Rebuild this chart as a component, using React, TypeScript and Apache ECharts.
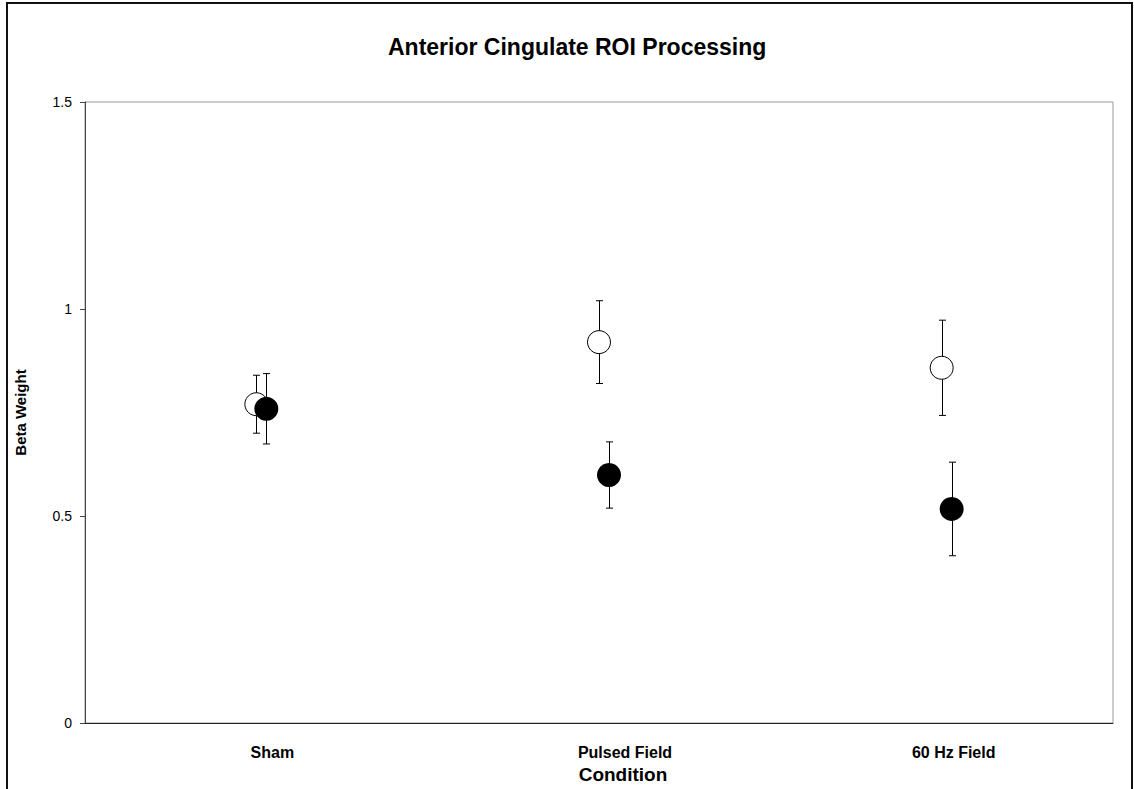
import React, { useEffect, useRef } from "react";
import * as echarts from "echarts";

const categories = ["Sham", "Pulsed Field", "60 Hz Field"];
const yTicks = [0, 0.5, 1, 1.5];
const openValues = [0.77, 0.92, 0.858];
const openErr = [0.07, 0.1, 0.115];
const filledValues = [0.759, 0.599, 0.517];
const filledErr = [0.085, 0.08, 0.113];

const FONT = "Arial, 'Liberation Sans', Helvetica, sans-serif";
const labelShift = [32, 52, 24];

function errSeries(name: string, vals: number[], errs: number[], offset: number, z: number) {
  return {
    name,
    type: "custom",
    z,
    silent: true,
    data: vals.map((v, i) => [i, v - errs[i], v + errs[i]]),
    renderItem: (params: any, api: any) => {
      const lo = api.coord([api.value(0), api.value(1)]);
      const hi = api.coord([api.value(0), api.value(2)]);
      const x = Math.round(lo[0] + offset) + 0.5;
      const cap = 3.5;
      const style = { stroke: "#000", lineWidth: 1, fill: "none" };
      return {
        type: "group",
        children: [
          { type: "line", shape: { x1: x, y1: hi[1], x2: x, y2: lo[1] }, style },
          { type: "line", shape: { x1: x - cap, y1: hi[1], x2: x + cap, y2: hi[1] }, style },
          { type: "line", shape: { x1: x - cap, y1: lo[1], x2: x + cap, y2: lo[1] }, style },
        ],
      };
    },
  };
}

export default function App() {
  const ref = useRef<HTMLDivElement>(null);
  useEffect(() => {
    if (!ref.current) return;
    const chart = echarts.init(ref.current, null, { renderer: "svg" });
    const rich: any = {};
    labelShift.forEach((s, i) => {
      rich["c" + i] = {
        fontFamily: FONT,
        fontSize: 16,
        fontWeight: "bold",
        color: "#000",
        padding: [0, 0, 0, s],
      };
    });
    chart.setOption({
      animation: false,
      backgroundColor: "#fff",
      title: {
        text: "Anterior Cingulate ROI Processing",
        left: 383,
        top: 30,
        padding: 5,
        textStyle: { fontFamily: FONT, fontSize: 23, fontWeight: "bold", color: "#000" },
      },
      graphic: [
        {
          type: "rect",
          shape: { x: 7, y: 3, width: 1125, height: 820 },
          style: { fill: "none", stroke: "#111", lineWidth: 2 },
          z: 100,
          silent: true,
        },
      ],
      grid: {
        left: 85,
        top: 102,
        right: 21,
        bottom: 66,
        show: true,
        borderColor: "#999",
        borderWidth: 1,
        backgroundColor: "#fff",
      },
      xAxis: {
        type: "category",
        data: categories,
        boundaryGap: true,
        name: "Condition",
        nameLocation: "middle",
        nameGap: 40,
        nameTextStyle: {
          fontFamily: FONT,
          fontSize: 19,
          fontWeight: "bold",
          color: "#000",
          padding: [0, 0, 0, 48],
        },
        axisLine: { lineStyle: { color: "#222", width: 1 } },
        axisTick: { show: false },
        axisLabel: {
          margin: 21,
          formatter: (value: string, index: number) => `{c${index}|${value}}`,
          rich,
        },
        splitLine: { show: false },
      },
      yAxis: {
        type: "value",
        min: yTicks[0],
        max: yTicks[yTicks.length - 1],
        interval: 0.5,
        name: "Beta Weight",
        nameLocation: "middle",
        nameGap: 57,
        nameTextStyle: { fontFamily: FONT, fontSize: 15, fontWeight: "bold", color: "#000" },
        axisLine: { show: true, lineStyle: { color: "#444", width: 1 } },
        axisTick: { show: true, length: 5, lineStyle: { color: "#444" } },
        axisLabel: { fontFamily: FONT, fontSize: 14, color: "#000", margin: 13 },
        splitLine: { show: false },
      },
      series: [
        errSeries("openErr", openValues, openErr, 0, 2),
        {
          name: "Open",
          type: "scatter",
          z: 3,
          symbol: "circle",
          symbolSize: 23,
          data: openValues.map((v, i) => [i, v]),
          itemStyle: { color: "#fff", borderColor: "#000", borderWidth: 1, opacity: 1 },
        },
        errSeries("filledErr", filledValues, filledErr, 10, 4),
        {
          name: "Filled",
          type: "scatter",
          z: 5,
          symbol: "circle",
          symbolSize: 24,
          symbolOffset: [10, 0],
          data: filledValues.map((v, i) => [i, v]),
          itemStyle: { color: "#000", borderColor: "#000", borderWidth: 0, opacity: 1 },
        },
      ],
    });
    return () => chart.dispose();
  }, []);
  return (
    <div
      ref={ref}
      style={{ position: "absolute", left: 0, top: 0, width: 1134, height: 789 }}
    />
  );
}
